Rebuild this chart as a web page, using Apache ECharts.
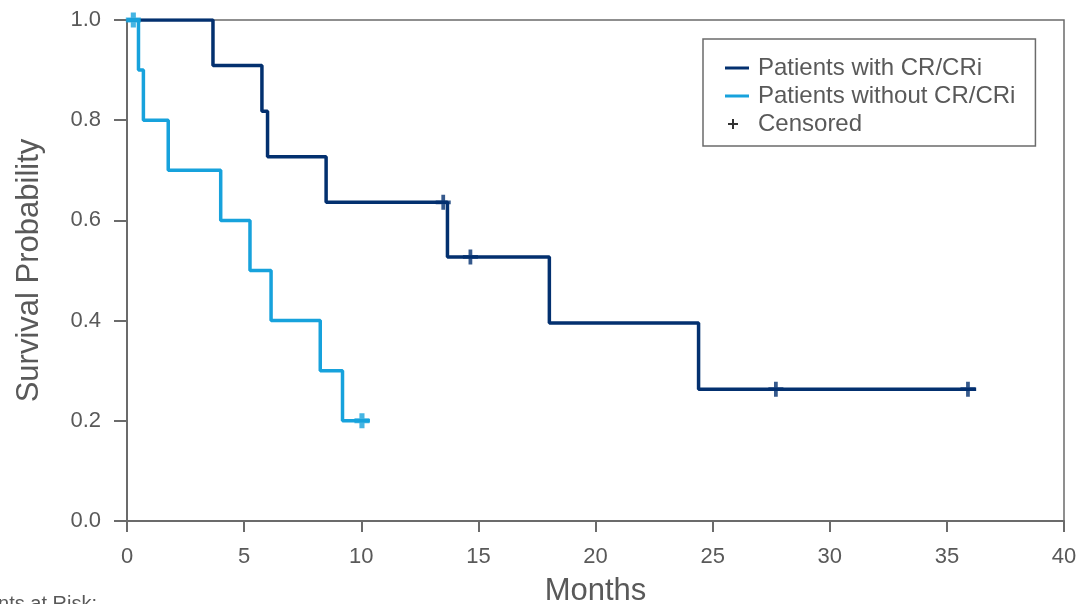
<!DOCTYPE html>
<html>
<head>
<meta charset="utf-8">
<script src="https://cdn.jsdelivr.net/npm/echarts@6/dist/echarts.min.js"></script>
<style>html,body{margin:0;padding:0;background:#fff}#c{width:1078px;height:604px}</style>
</head>
<body>
<div id="c"></div>
<script>
// Kaplan-Meier step points [months, survival]
const withCR = [[0,1.0],[3.67,0.909],[5.76,0.818],[6.0,0.727],[8.5,0.636],[13.68,0.527],[18.03,0.395],[24.4,0.263],[36.25,0.263]];
const withoutCR = [[0,1.0],[0.49,0.9],[0.7,0.8],[1.76,0.7],[4.0,0.6],[5.25,0.5],[6.15,0.4],[8.25,0.3],[9.2,0.2],[10.37,0.2]];
const censWithCR = [[13.5,0.636],[14.66,0.527],[27.7,0.263],[35.9,0.263]];
const censWithoutCR = [[0.27,1.0],[10.03,0.2]];
const xTicks = [0,5,10,15,20,25,30,35,40];
const yTicks = [0,0.2,0.4,0.6,0.8,1.0];

const DARK = '#03306f', LIGHT = '#17a2dc', AXIS = '#6b6b6b', TXT = '#595959';
const PLUS = 'path://M3.75,0H6.25V3.75H10V6.25H6.25V10H3.75V6.25H0V3.75H3.75Z';
const PLUS_BOLD = 'path://M3.3,0H6.7V3.3H10V6.7H6.7V10H3.3V6.7H0V3.3H3.3Z';
const LEG_LINE = 'path://M0,0L0,0M28,14L28,14M0,5.5H24V8.5H0Z';
const LEG_PLUS = 'path://M0,0L0,0M28,14L28,14M7,2H9V6H13V8H9V12H7V8H3V6H7Z';
const FONT = 'Liberation Sans, Arial, sans-serif';

const chart = echarts.init(document.getElementById('c'), null, {renderer:'canvas'});
chart.setOption({
  animation:false,
  textStyle:{fontFamily:FONT},
  grid:{left:127,right:14,top:20,bottom:83,outerBoundsMode:'none',containLabel:false,
    show:true,borderColor:AXIS,borderWidth:1.5,backgroundColor:'transparent'},
  xAxis:{type:'value',min:xTicks[0],max:xTicks[xTicks.length-1],interval:5,
    name:'Months',nameLocation:'middle',nameGap:55,
    nameTextStyle:{fontSize:31,color:TXT,fontFamily:FONT},
    axisLine:{show:true,onZero:false,lineStyle:{color:AXIS,width:2}},
    axisTick:{show:true,length:11,lineStyle:{color:AXIS,width:2}},
    axisLabel:{fontSize:22,color:TXT,margin:25,fontFamily:FONT},
    splitLine:{show:false}},
  yAxis:{type:'value',min:0,max:1,interval:0.2,
    name:'Survival Probability',nameLocation:'middle',nameGap:82,
    nameTextStyle:{fontSize:31,color:TXT,fontFamily:FONT},
    axisLine:{show:true,onZero:false,lineStyle:{color:AXIS,width:2}},
    axisTick:{show:true,length:13,lineStyle:{color:AXIS,width:2}},
    axisLabel:{fontSize:22,color:TXT,margin:26,fontFamily:FONT,formatter:v=>v.toFixed(1)},
    splitLine:{show:false}},
  legend:{show:true,orient:'vertical',left:703,top:39,
    padding:[17,20,10,22],itemGap:4,itemWidth:28,itemHeight:14,
    borderColor:AXIS,borderWidth:1.5,
    textStyle:{fontSize:24,color:TXT,fontFamily:FONT},
    data:[{name:'Patients with CR/CRi',icon:LEG_LINE},{name:'Patients without CR/CRi',icon:LEG_LINE},
      {name:'Censored',icon:LEG_PLUS,itemStyle:{color:'#000'}}]},
  series:[
    {name:'Patients with CR/CRi',type:'line',step:'end',data:withCR,symbol:'none',
      lineStyle:{color:DARK,width:3.5},itemStyle:{color:DARK},z:3},
    {name:'Patients without CR/CRi',type:'line',step:'end',data:withoutCR,symbol:'none',
      lineStyle:{color:LIGHT,width:3.5},itemStyle:{color:LIGHT},z:3},
    {name:'cens1',type:'scatter',data:censWithCR,symbol:PLUS,symbolSize:15,
      itemStyle:{color:DARK},z:4},
    {name:'cens2',type:'scatter',data:censWithoutCR,symbol:PLUS_BOLD,symbolSize:15,
      itemStyle:{color:LIGHT},z:4},
    {name:'Censored',type:'scatter',data:[],symbol:PLUS,symbolSize:12,itemStyle:{color:'#000'}}
  ],
  graphic:[{type:'text',right:981,top:594,style:{text:'Patients at Risk:',fontSize:20,fill:TXT,fontFamily:FONT,textAlign:'right'}}]
});
</script>
</body>
</html>
